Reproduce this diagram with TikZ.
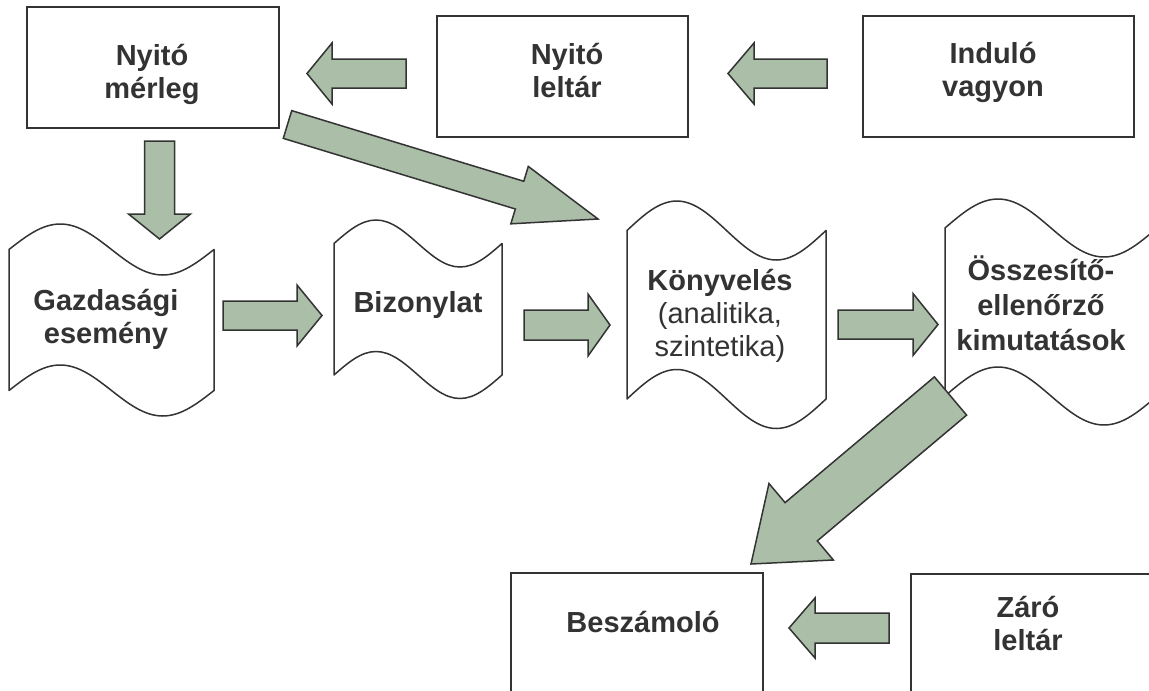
\documentclass[tikz,border=0pt]{standalone}
\usepackage{fontspec}
\setmainfont{Liberation Sans}
\usetikzlibrary{calc}
\definecolor{arrowfill}{RGB}{170,190,168}
\definecolor{lineclr}{RGB}{51,51,51}
\definecolor{txtclr}{RGB}{51,51,51}
% block arrow: tail, tip, half shaft width, half head width, head length
\newcommand\blockarrow[5]{%
  \coordinate (bah) at ($(#2)!#5!(#1)$);
  \draw[blockarr] ($(#1)!#3!90:(#2)$) -- ($(bah)!#3!90:(#2)$) -- ($(bah)!#4!90:(#2)$) -- (#2)
    -- ($(bah)!#4!-90:(#2)$) -- ($(bah)!#3!-90:(#2)$) -- ($(#1)!#3!-90:(#2)$) -- cycle;}
% wavy document: name, x0, x1, top mid, bottom mid, amplitude
\newcommand\wavedoc[6]{%
  \draw[doc] (#2,#4) sin ({#2+(#3-#2)/4},{#4-#6}) cos ({(#2+#3)/2},#4)
    sin ({#2+3*(#3-#2)/4},{#4+#6}) cos (#3,#4) -- (#3,#5)
    sin ({#2+3*(#3-#2)/4},{#5+#6}) cos ({(#2+#3)/2},#5)
    sin ({#2+(#3-#2)/4},{#5-#6}) cos (#2,#5) -- cycle;
  \coordinate (#1) at ({(#2+#3)/2},{(#4+#5)/2});}
\begin{document}
\begin{tikzpicture}[x=1pt,y=-1pt,
  box/.style={draw=lineclr, line width=2pt, fill=white, rectangle, inner sep=0pt, outer sep=0pt},
  doc/.style={draw=lineclr, line width=1.5pt, fill=white, line join=round},
  blockarr/.style={draw=lineclr, line width=1.5pt, fill=arrowfill, line join=miter},
  lbl/.style={font=\fontsize{29}{33}\selectfont\bfseries, text=txtclr, align=center, inner sep=0pt, anchor=base}]
\useasboundingbox (0,0) rectangle (1149,691);
\clip (0,0) rectangle (1149,691);
\fill[white] (0,0) rectangle (1149,691);

% boxes
\node[box, minimum width=252pt, minimum height=121pt] (mer) at (153,67.5) {};
\node[box, minimum width=251pt, minimum height=121pt] (nyl) at (562.5,76.5) {};
\node[box, minimum width=271pt, minimum height=121pt] (ind) at (998.5,76.5) {};
\node[box, minimum width=252pt, minimum height=125pt] (besz) at (637,635.5) {};
\node[box, minimum width=252pt, minimum height=125pt] (zaro) at (1037,636.5) {};

% wavy documents
\wavedoc{gaz}{9}{214}{249.5}{390.5}{25.5}
\wavedoc{biz}{334}{502}{243.5}{375}{23.5}
\wavedoc{konyv}{627}{826}{230.5}{399}{29.5}
\wavedoc{ossz}{945}{1157}{228}{396}{29}

% arrow end points
\coordinate (a1t) at (406,73.5);   \coordinate (a1h) at (307,73.5);
\coordinate (a2t) at (827,73.5);   \coordinate (a2h) at (728,73.5);
\coordinate (a3t) at (159.5,141);  \coordinate (a3h) at (159.5,239);
\coordinate (a4t) at (287.5,124.5);\coordinate (a4h) at (598,219);
\coordinate (a5t) at (223,315.5);  \coordinate (a5h) at (322,315.5);
\coordinate (a6t) at (524,325);    \coordinate (a6h) at (610,325);
\coordinate (a7t) at (838,324.5);  \coordinate (a7h) at (938,324.5);
\coordinate (a8t) at (950.5,396);  \coordinate (a8h) at (751,564);
\coordinate (a9t) at (889,628);    \coordinate (a9h) at (789,628);

\blockarrow{a1t}{a1h}{14.5pt}{30.5pt}{25pt}
\blockarrow{a2t}{a2h}{14.5pt}{30.5pt}{26pt}
\blockarrow{a3t}{a3h}{15pt}{31pt}{25pt}
\blockarrow{a4t}{a4h}{14.5pt}{30pt}{82pt}
\blockarrow{a5t}{a5h}{14.5pt}{30.5pt}{25pt}
\blockarrow{a6t}{a6h}{15pt}{31pt}{22pt}
\blockarrow{a7t}{a7h}{14.5pt}{31pt}{25pt}
\blockarrow{a8t}{a8h}{25pt}{50pt}{65.6pt}
\blockarrow{a9t}{a9h}{15pt}{30pt}{26pt}

% labels (anchor=base is the baseline of the last line)
\node[lbl] (tmer) at (152,98) {Nyitó\\mérleg};
\node[lbl] (tnyl) at (567,97) {Nyitó\\leltár};
\node[lbl] (tind) at (993,96) {Induló\\vagyon};
\node[lbl] (tgaz) at (106,343) {Gazdasági\\esemény};
\node[lbl] (tbiz) at (418,312) {Bizonylat};
\node[lbl] (tkon) at (720,356) {Könyvelés\\\mdseries(analitika,\\\mdseries szintetika)};
\node[lbl, font=\fontsize{29}{35}\selectfont\bfseries] (toss) at (1041,350) {Összesítő-\\ellenőrző\\kimutatások};
\node[lbl] (tbes) at (643,632) {Beszámoló};
\node[lbl] (tzar) at (1028,650) {Záró\\leltár};
\end{tikzpicture}
\end{document}
